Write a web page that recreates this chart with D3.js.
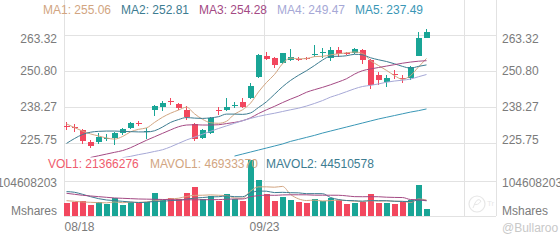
<!DOCTYPE html>
<html><head><meta charset="utf-8">
<script src="https://cdn.jsdelivr.net/npm/d3@7"></script>
<style>
html,body{margin:0;padding:0;background:#fff;}
svg{display:block;font-family:"Liberation Sans",Arial,Helvetica,sans-serif;}
</style>
</head><body>
<svg id="c" width="560" height="240"></svg>
<script>
// ---------------- DATA ----------------
const opens  = [231.6,231.3,230.2,226.0,226.1,227.0,227.3,229.0,231.0,232.6,229.5,237.1,238.3,240.1,239.2,237.1,232.2,227.3,229.2,237.0,237.1,238.8,240.0,241.2,248.5,255.9,255.1,253.4,254.6,254.9,255.1,256.5,257.1,255.1,258.0,256.9,256.8,258.0,254.5,249.3,246.8,249.6,248.2,248.1,256.0,262.3];
const highs  = [233.1,232.2,230.6,226.8,229.0,228.8,229.5,230.8,233.1,233.2,230.9,238.9,240.1,241.3,239.6,238.5,232.6,230.6,234.6,238.0,241.2,239.9,241.2,246.5,256.6,257.3,255.5,257.1,258.2,255.5,255.6,259.8,258.8,259.2,258.9,257.4,258.6,258.3,254.8,250.4,249.2,251.2,249.2,252.6,264.4,265.4];
const lows   = [230.2,229.6,225.4,223.9,225.3,226.3,224.9,228.6,230.4,231.6,227.2,235.1,236.9,238.9,237.1,233.5,226.5,226.9,228.9,235.4,236.9,237.9,237.7,240.9,248.3,254.4,251.6,253.1,254.3,254.0,254.4,255.4,255.3,254.2,255.6,256.2,256.5,253.3,244.3,245.8,245.1,247.9,246.4,247.6,255.8,262.0];
const closes = [231.1,230.9,226.2,224.6,227.8,227.3,229.2,230.5,232.7,232.4,229.7,238.5,239.7,239.9,237.7,234.6,226.9,230.2,234.2,236.8,238.1,239.0,238.1,245.5,256.3,254.7,252.8,256.8,255.6,254.7,254.9,256.7,257.3,258.0,256.5,256.7,258.2,254.5,245.8,247.6,248.4,249.4,248.0,252.2,262.3,264.2];
// volume in millions of shares
const volumes = [37,40,44,32,42,34,54,32,40,39,42,69,47,54,49,69,85,49,59,44,64,49,45,166,107,64,44,57,47,40,39,50,44,52,47,34,39,42,64,39,37,34,40,47,92,21.37];

// price moving averages (null = outside the visible pane)
const ma1 = [232.3,231.0,229.8,228.8,228.1,227.4,227.0,227.9,229.5,230.4,230.9,232.8,234.6,236.0,237.1,238.1,235.8,233.9,232.7,232.5,233.2,235.7,237.2,239.5,243.4,246.7,249.5,253.2,255.2,254.9,255.0,255.7,255.8,256.3,256.7,257.0,257.3,256.8,254.3,252.6,250.9,249.1,247.8,249.1,252.1,255.06];
const ma2 = [225.5,227.2,228.6,229.4,229.7,229.8,229.8,229.7,229.6,229.5,229.5,229.9,231.2,232.8,233.8,234.5,234.3,234.2,234.4,234.8,235.7,235.7,235.6,236.1,238.0,240.0,242.6,245.2,247.4,249.2,250.8,252.6,254.5,255.8,255.8,256.0,256.5,256.3,255.3,254.6,254.0,253.2,252.3,251.7,252.3,252.81];
const ma3 = [null,null,null,220.6,221.2,221.8,222.4,223.0,224.0,225.3,226.6,227.8,229.0,230.2,231.3,231.9,232.0,231.9,231.9,232.0,232.4,232.8,233.4,234.4,235.9,237.2,238.4,239.7,240.9,242.0,243.3,244.2,245.0,245.9,246.9,248.0,249.6,250.8,251.4,251.9,252.4,252.9,253.4,253.8,254.1,254.28];
const ma4 = [null,null,null,null,null,null,null,220.5,221.0,221.6,222.1,222.7,223.3,224.3,225.5,226.7,227.7,228.7,229.7,230.7,231.6,232.5,233.4,234.2,234.9,235.5,236.0,236.6,237.2,237.75,238.5,239.4,240.4,241.6,242.5,243.5,244.5,245.3,245.7,246.2,246.8,247.2,247.5,247.9,248.7,249.47];
const ma5 = [null,null,null,null,null,null,null,null,null,null,null,null,null,null,null,null,null,null,null,null,null,221.1,221.8,222.5,223.2,223.9,224.6,225.3,226.2,226.9,227.6,228.3,229.1,229.8,230.5,231.2,231.9,232.6,233.3,234.0,234.6,235.2,235.8,236.4,236.9,237.49];

// volume moving averages (millions)
const mavol1 = [45,43,41,40,39.0,38.4,41.2,38.8,40.4,39.8,41.4,44.4,47.4,50.2,52.2,57.6,60.8,61.2,62.2,61.2,60.2,53.0,52.2,73.6,86.2,86.2,85.2,87.6,63.8,50.4,45.4,46.6,44.0,45.0,46.4,45.4,43.2,42.8,45.2,43.6,44.2,43.2,42.8,39.4,50.0,46.93];
const mavol2 = [72,70,64,57,51,47,45,43,41,39.4,39.9,42.8,43.1,45.3,46.0,49.5,52.6,54.3,56.2,56.7,58.9,56.9,56.7,67.9,73.7,73.2,69.1,69.9,68.7,68.3,65.8,65.9,65.8,54.4,48.4,45.4,44.9,43.4,45.1,45.0,44.8,43.2,42.8,42.3,46.8,44.51];
const mavol3 = [67,64,61,59,57,55,53,52,51,50,49.5,49,48.5,48,47.5,47.5,47.5,47.7,47.9,48.0,49.4,49.9,49.9,56.6,59.9,61.4,60.9,62.1,62.5,62.5,62.4,61.4,61.3,61.2,61.1,59.3,57.0,56.7,56.9,56.7,55.3,54.6,54.3,48.4,47.6,45.5];

const maNames  = ["MA1","MA2","MA3","MA4","MA5"];
const maValues = ["255.06","252.81","254.28","249.47","237.49"];
const volNames  = ["VOL1","MAVOL1","MAVOL2"];
const volValues = ["21366276","46933370","44510578"];

const priceTicks = [225.75, 238.27, 250.80, 263.32];
const volTicks = [0, 104608203];
const volTickLabels = ["Mshares", "104608203"];
const dateTickIndex = [0, 25, 50];
const dateTickLabels = ["08/18", "09/23", ""];
const totalSlots = 54;

// ---------------- STYLE ----------------
const UP = "#19a596", DOWN = "#f2475e";
const maColors = ["#d2a581", "#3d7c91", "#a44a84", "#a6a8d6", "#3a97b6"];
const volColors = ["#ef5c6e", "#d2a581", "#3d7c91"];
const gridC = "#e2e2e2", textC = "#7b7b7b";

const L = 64, R = 496;
const svg = d3.select("#c");

const x = d3.scaleLinear().domain([-0.375, totalSlots - 0.375]).range([L, R]);
const y = d3.scaleLinear().domain([225.75, 263.32]).range([142.7, 34.7]);
const yv = d3.scaleLinear().domain([0, 104608203]).range([215.7, 180.7]);

const defs = svg.append("defs");
defs.append("clipPath").attr("id","mainClip").append("rect").attr("x",L).attr("y",0).attr("width",R-L).attr("height",157.5);
defs.append("clipPath").attr("id","volClip").append("rect").attr("x",L).attr("y",158).attr("width",R-L).attr("height",58);

// ---- grid ----
const grid = svg.append("g").attr("shape-rendering","crispEdges").attr("stroke",gridC).attr("stroke-width",1);
priceTicks.forEach(t => {
  const yy = Math.round(y(t)) + 0.5;
  grid.append("line").attr("x1",L).attr("x2",R).attr("y1",yy).attr("y2",yy);
});
volTicks.forEach(t => {
  const yy = Math.round(yv(t)) + 0.5;
  grid.append("line").attr("x1",L).attr("x2",R).attr("y1",yy).attr("y2",yy);
});
dateTickIndex.forEach(i => {
  const xx = Math.round(x(i - 0.375)) + 0.5;
  grid.append("line").attr("x1",xx).attr("x2",xx).attr("y1",0).attr("y2",216);
});
grid.append("line").attr("x1",R+0.5).attr("x2",R+0.5).attr("y1",0).attr("y2",216);

// ---- watermark logo ----
const wm = svg.append("g").attr("opacity",0.35);
wm.append("circle").attr("cx",477).attr("cy",204).attr("r",8).attr("fill","none").attr("stroke","#bbb").attr("stroke-width",1.2);
wm.append("path").attr("d","M473,208 Q477,196 481,201 Q478,206 474,204").attr("fill","none").attr("stroke","#bbb").attr("stroke-width",1);
wm.append("text").attr("x",487).attr("y",206).attr("font-size",8).attr("fill","#bbb").text("Tr");

// ---- candles ----
const idx = d3.range(closes.length);
const candles = svg.append("g").attr("clip-path","url(#mainClip)").attr("shape-rendering","crispEdges");
idx.forEach(i => {
  const o = opens[i], c = closes[i];
  const col = c >= o ? UP : DOWN;
  const cx = x(i);
  candles.append("line").attr("x1",cx-0.5).attr("x2",cx-0.5)
    .attr("y1",y(highs[i])).attr("y2",y(lows[i])).attr("stroke",col).attr("stroke-width",1);
  const top = y(Math.max(o,c)), bot = y(Math.min(o,c));
  candles.append("rect").attr("x",cx-3).attr("width",6)
    .attr("y",top).attr("height",Math.max(1,bot-top)).attr("fill",col);
});

// ---- MA lines ----
const maG = svg.append("g").attr("clip-path","url(#mainClip)");
[ma1,ma2,ma3,ma4,ma5].forEach((arr,k) => {
  const line = d3.line().defined(d => d != null).x((d,i) => x(i) - 0.5).y(d => y(d)).curve(d3.curveMonotoneX);
  maG.append("path").attr("d", line(arr)).attr("fill","none").attr("stroke",maColors[k]).attr("stroke-width",1);
});

// ---- volume bars ----
const volG = svg.append("g").attr("clip-path","url(#volClip)").attr("shape-rendering","crispEdges");
idx.forEach(i => {
  const col = closes[i] >= opens[i] ? UP : DOWN;
  const v = volumes[i] * 1e6;
  volG.append("rect").attr("x",x(i)-3).attr("width",6)
    .attr("y",yv(v)).attr("height",yv(0)-yv(v)).attr("fill",col);
});
const volMaG = svg.append("g").attr("clip-path","url(#volClip)");
[mavol1,mavol2,mavol3].forEach((arr,k) => {
  const line = d3.line().x((d,i) => x(i) - 0.5).y(d => yv(d*1e6)).curve(d3.curveMonotoneX);
  volMaG.append("path").attr("d", line(arr)).attr("fill","none").attr("stroke",maColors[k]).attr("stroke-width",1);
});

// ---- axes ----
function styleAxis(g){
  g.select(".domain").remove();
  g.selectAll("text").attr("fill",textC).attr("font-size",12).attr("font-family",'"Liberation Sans",Arial,sans-serif');
}
function clampTicks(g, scale, lo, hi){
  g.selectAll(".tick text").each(function(d){
    const p = scale(d);
    const c = Math.max(lo, Math.min(hi, p));
    d3.select(this).attr("y", c - p);
  });
}
const fmt = d3.format(".2f");
const leftP = svg.append("g").attr("transform",`translate(${L},0)`)
  .call(d3.axisLeft(y).tickValues(priceTicks).tickSize(0).tickPadding(7).tickFormat(fmt));
styleAxis(leftP); clampTicks(leftP, y, 38.3, 139.3);
const rightP = svg.append("g").attr("transform",`translate(${R},0)`)
  .call(d3.axisRight(y).tickValues(priceTicks).tickSize(0).tickPadding(6).tickFormat(fmt));
styleAxis(rightP); clampTicks(rightP, y, 38.3, 139.3);

const vfmt = d => volTickLabels[volTicks.indexOf(d)];
const leftV = svg.append("g").attr("transform",`translate(${L},0)`)
  .call(d3.axisLeft(yv).tickValues(volTicks).tickSize(0).tickPadding(7).tickFormat(vfmt));
styleAxis(leftV); clampTicks(leftV, yv, 182.7, 211);
const rightV = svg.append("g").attr("transform",`translate(${R},0)`)
  .call(d3.axisRight(yv).tickValues(volTicks).tickSize(0).tickPadding(6).tickFormat(vfmt));
styleAxis(rightV); clampTicks(rightV, yv, 182.7, 211);

const xEdge = d3.scaleLinear().domain([0, totalSlots]).range([L, R]);
const xAxisG = svg.append("g").attr("transform","translate(0,216)")
  .call(d3.axisBottom(xEdge).tickValues(dateTickIndex).tickSize(0).tickPadding(6)
    .tickFormat(d => dateTickLabels[dateTickIndex.indexOf(d)]));
styleAxis(xAxisG);
xAxisG.selectAll(".tick text").each(function(d){
  const p = xEdge(d);
  const w = this.getComputedTextLength();
  let off = 0;
  if (p - w/2 < L) off = L - (p - w/2);
  d3.select(this).attr("x", off);
});

// watermark text
svg.append("text").attr("x",502).attr("y",228).attr("dy","0.32em").attr("font-size",12)
  .attr("fill","#c8c8c8").text("@Bullaroo");

// ---- legends ----
const maLeg = svg.append("text").attr("x",43).attr("y",10).attr("dy","0.32em").attr("font-size",12);
maNames.forEach((n,k) => {
  maLeg.append("tspan").attr("x",43 + k*78).attr("fill",maColors[k]).text(`${n}: ${maValues[k]}`);
});
const volLegX = [48, 150, 266];
const volLeg = svg.append("text").attr("y",164.5).attr("dy","0.32em").attr("font-size",12);
volNames.forEach((n,k) => {
  volLeg.append("tspan").attr("x",volLegX[k]).attr("fill",volColors[k]).text(`${n}: ${volValues[k]}`);
});
</script>
</body></html>
